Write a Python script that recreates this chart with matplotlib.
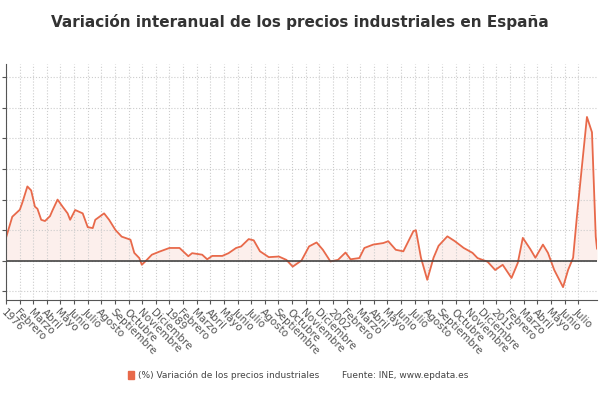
import numpy as np
import matplotlib.pyplot as plt

# puntos (año decimal, % variación interanual)
fechas = [1976.0, 1976.5, 1977.1, 1977.3, 1977.7, 1978.0, 1978.3, 1978.5, 1978.8, 1979.1,
          1979.5, 1979.7, 1980.1, 1980.5, 1980.9, 1981.1, 1981.5, 1982.1, 1982.5, 1982.9,
          1983.1, 1983.8, 1984.2, 1984.7, 1985.2, 1985.9, 1986.2, 1986.6, 1986.8, 1987.2,
          1987.6, 1988.2, 1989.0, 1989.8, 1990.5, 1990.8, 1991.6, 1992.0, 1992.4, 1993.2,
          1993.7, 1994.3, 1994.7, 1995.3, 1995.7, 1996.2, 1996.9, 1997.7, 1998.3, 1998.8,
          1999.5, 2000.1, 2000.7, 2001.2, 2001.8, 2002.4, 2003.0, 2003.4, 2004.1, 2004.5,
          2005.2, 2006.0, 2006.4, 2007.0, 2007.6, 2008.4, 2008.6, 2009.0, 2009.5, 2010.0,
          2010.4, 2011.1, 2011.7, 2012.4, 2013.1, 2013.5, 2014.3, 2014.9, 2015.5, 2016.2,
          2016.7, 2017.1, 2017.7, 2018.1, 2018.7, 2019.1, 2019.6, 2020.3, 2020.7, 2021.1,
          2021.4, 2021.8, 2022.2, 2022.6, 2022.9, 2023.0]
valores = [7.5, 14.4, 16.7, 19.0, 24.3, 23.0, 17.7, 17.0, 13.4, 13.0,
           14.6, 16.5, 20.0, 17.7, 15.5, 13.4, 16.6, 15.5, 11.0, 10.7,
           13.4, 15.5, 13.4, 10.1, 7.9, 6.9, 2.6, 0.9, -1.3, 0.3,
           2.0, 3.0, 4.2, 4.2, 1.5, 2.5, 2.0, 0.5, 1.6, 1.6,
           2.5, 4.2, 4.7, 7.1, 6.7, 3.1, 1.2, 1.4, 0.3, -1.9,
           0.1, 4.7, 6.0, 3.6, -0.2, 0.3, 2.7, 0.5, 0.9, 4.2,
           5.3, 5.8, 6.4, 3.6, 3.1, 9.7, 10.0, 1.0, -6.2, 1.0,
           4.9, 8.0, 6.4, 4.2, 2.6, 0.9, -0.3, -3.0, -1.3, -5.6,
           -0.7, 7.5, 3.8, 1.0, 5.3, 2.6, -3.0, -8.6, -3.0, 1.0,
           14.4, 30.8, 47.0, 42.0, 7.9, 4.0]

meses = ["Enero", "Febrero", "Marzo", "Abril", "Mayo", "Junio", "Julio", "Agosto",
         "Septiembre", "Octubre", "Noviembre", "Diciembre"]
n_ticks = 43
tick_pos = [1976 + 13 * k / 12 for k in range(n_ticks)]
tick_lab = [str(1976 + 13 * (k // 12)) if k % 12 == 0 else meses[k % 12] for k in range(n_ticks)]

color = "#e8694a"
fig = plt.figure(figsize=(6, 4), dpi=100)
ax = fig.add_axes([0.01, 0.25, 0.985, 0.59])
ax.fill_between(fechas, valores, 0, color=color, alpha=0.1, lw=0)
ax.plot(fechas, valores, color=color, lw=1.3)
ax.axhline(0, color="#444444", lw=1.2)

ax.set_xlim(1976, 2023)
ax.set_ylim(-12.8, 64.3)
ax.set_yticks(np.arange(-10, 61, 10))
ax.set_yticklabels([])
ax.set_xticks(tick_pos)
ax.set_xticklabels(tick_lab, rotation=-45, ha="left", va="top", rotation_mode="anchor",
                   fontsize=7.5, color="#555555")
ax.tick_params(axis="x", length=3, pad=2, color="#555555")
ax.tick_params(axis="y", length=3, color="#555555")
ax.grid(True, color="#cccccc", ls=":", lw=0.8)
for s in ["top", "right"]:
    ax.spines[s].set_visible(False)
for s in ["left", "bottom"]:
    ax.spines[s].set_color("#555555")

fig.text(0.5, 0.945, "Variación interanual de los precios industriales en España",
         ha="center", va="center", fontsize=11, fontweight="bold", color="#333333")
fig.patches.append(plt.Rectangle((0.213, 0.052), 0.01, 0.02, transform=fig.transFigure,
                                 color=color))
fig.text(0.23, 0.062, "(%) Variación de los precios industriales", fontsize=6.5,
         va="center", color="#444444")
fig.text(0.57, 0.062, "Fuente: INE, www.epdata.es", fontsize=6.5, va="center", color="#444444")

fig.savefig("out.png")
